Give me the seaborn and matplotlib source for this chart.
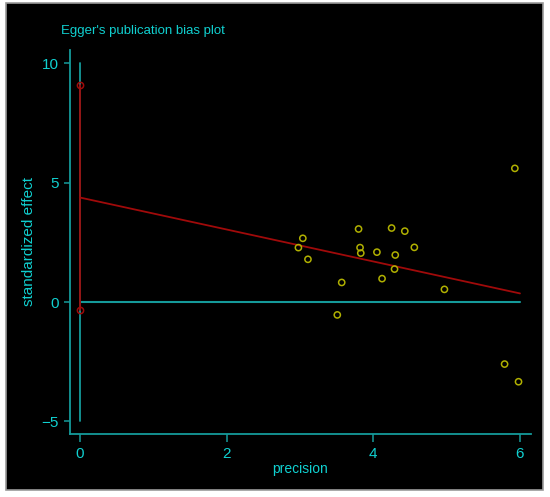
import matplotlib
matplotlib.use("Agg")
import matplotlib.pyplot as plt
from matplotlib import font_manager
from matplotlib.patches import Rectangle
import seaborn as sns
import pandas as pd

# ---- data ----
precision = [3.04, 2.98, 3.11, 3.80, 3.82, 3.83, 4.05, 4.25, 4.43, 4.30,
             4.29, 4.56, 4.12, 3.57, 4.97, 3.51, 5.79, 5.98, 5.93]
std_effect = [2.67, 2.28, 1.79, 3.06, 2.28, 2.05, 2.09, 3.10, 2.97, 1.97,
              1.38, 2.29, 0.98, 0.82, 0.53, -0.54, -2.60, -3.34, 5.60]
reg_x = [0, 6]
reg_y = [4.38, 0.36]
ci_x = [0, 0]
ci_y = [9.11, -0.33]
ref_vx = [0, 0]
ref_vy = [10, -5]
ref_hx = [0, 6]
ref_hy = [0, 0]
xticks = [0, 2, 4, 6]
yticks = [-5, 0, 5, 10]
ytick_labels = ["\u22125", "0", "5", "10"]
title = "Egger's publication bias plot"
xlabel = "precision"
ylabel = "standardized effect"

sns.set_theme(style="white")
names = {f.name for f in font_manager.fontManager.ttflist}
fam = "Liberation Sans Narrow" if "Liberation Sans Narrow" in names else "Liberation Sans"
plt.rcParams["font.family"] = [fam, "DejaVu Sans"]

TEAL = "#159a9a"
TEXT = "#10d0d0"
RED = "#a00a0a"
YEL = "#b0b000"

W, H = 550, 497
fig = plt.figure(figsize=(W / 100, H / 100), dpi=100, facecolor="white")
bg = Rectangle((6 / W, 1 - 490 / H), (543 - 6) / W, (490 - 3) / H,
               transform=fig.transFigure, facecolor="black",
               edgecolor="#9a9a9a", linewidth=1.2, zorder=-5)
fig.add_artist(bg)

left, right, top, bottom = 69.5, 531, 50, 434
ax = fig.add_axes([left / W, 1 - bottom / H, (right - left) / W, (bottom - top) / H])
ax.set_facecolor("black")
ax.set_zorder(1)

ax.plot(ref_vx, ref_vy, color=TEAL, lw=1.3, zorder=1)
ax.plot(ref_hx, ref_hy, color=TEAL, lw=1.5, zorder=1)
sns.lineplot(x=reg_x, y=reg_y, ax=ax, color=RED, lw=1.3, zorder=2)
ax.plot(ci_x, ci_y, color=RED, lw=1.3, zorder=2)
ax.plot(ci_x, ci_y, linestyle="none", marker="o", ms=4.5, mfc="none", mec=RED, mew=1.1, zorder=3)

df = pd.DataFrame({"precision": precision, "effect": std_effect})
sns.scatterplot(data=df, x="precision", y="effect", ax=ax, marker="o", s=20,
                facecolor="none", edgecolor=YEL, linewidth=1.1, zorder=4)

ax.set_xlim(-0.14, 6.15)
ax.set_ylim(-5.53, 10.56)
ax.set_xticks(xticks)
ax.set_xticklabels([str(t) for t in xticks])
ax.set_yticks(yticks)
ax.set_yticklabels(ytick_labels)
for s in ["top", "right"]:
    ax.spines[s].set_visible(False)
for s in ["left", "bottom"]:
    ax.spines[s].set_color(TEAL)
    ax.spines[s].set_linewidth(1.3)
ax.tick_params(axis="x", colors=TEAL, labelcolor=TEXT, length=6, width=1.1,
               pad=3, labelsize=11, direction="out", bottom=True)
ax.tick_params(axis="y", colors=TEAL, labelcolor=TEXT, length=4.5, width=1.1,
               pad=3, labelsize=11, direction="out", left=True)
ax.set_xlabel(xlabel, color=TEXT, fontsize=10)
ax.xaxis.set_label_coords(0.5, -(469 - 434) / (bottom - top))
ax.xaxis.label.set_va("center")
ax.set_ylabel(ylabel, color=TEXT, fontsize=11)
ax.yaxis.set_label_coords((29 - left) / (right - left), 0.5)
ax.yaxis.label.set_va("center")
ax.grid(False)

fig.text(143 / W, 1 - 31 / H, title, color=TEXT, fontsize=9.5, ha="center", va="center")

fig.savefig("out.png", dpi=100, facecolor="white")
